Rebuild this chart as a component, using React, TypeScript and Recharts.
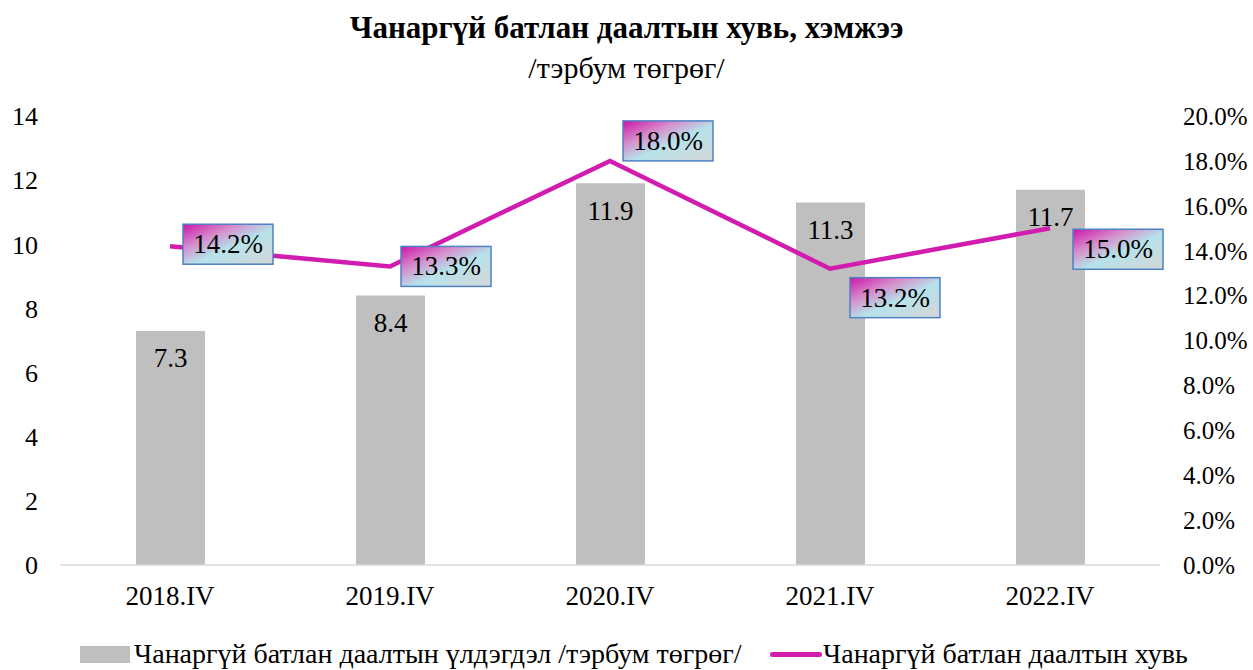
import { Bar, ComposedChart, LabelList, Line, XAxis, YAxis } from 'recharts'

const categories = ['2018.IV', '2019.IV', '2020.IV', '2021.IV', '2022.IV']
const balance = [7.3, 8.4, 11.9, 11.3, 11.7]
const share = [14.2, 13.3, 18.0, 13.2, 15.0]
const leftTicks = [0, 2, 4, 6, 8, 10, 12, 14]
const rightTicks = [0, 2, 4, 6, 8, 10, 12, 14, 16, 18, 20]

const data = categories.map((c, i) => ({ name: c, balance: balance[i], share: share[i] }))

// label box offsets from the point (centre of box), moved by hand in the source
const boxOffsets = [
  [58, -2],
  [56, 0],
  [58, -20],
  [65, 29],
  [68, 21],
]

const serif = '"Liberation Serif", "Times New Roman", serif'
const magenta = '#d21cb0'

function BoxLabel(props: any) {
  const { x, y, value, index } = props
  const [dx, dy] = boxOffsets[index] ?? [58, 0]
  const w = 90
  const h = 40
  const cx = x + dx
  const cy = y + dy
  const id = `boxgrad-${index}`
  return (
    <g>
      <defs>
        <linearGradient id={id} x1="0" y1="0" x2="1" y2="1">
          <stop offset="0%" stopColor="#cc14a8" />
          <stop offset="30%" stopColor="#d68ccc" />
          <stop offset="55%" stopColor="#b6e2ea" />
          <stop offset="100%" stopColor="#d6d6d6" />
        </linearGradient>
      </defs>
      <rect
        x={cx - w / 2}
        y={cy - h / 2}
        width={w}
        height={h}
        fill={`url(#${id})`}
        stroke="#4f81c4"
        strokeWidth={1.5}
      />
      <text
        x={cx}
        y={cy}
        textAnchor="middle"
        dominantBaseline="central"
        fontFamily={serif}
        fontSize={27}
        fill="#000"
      >
        {`${Number(value).toFixed(1)}%`}
      </text>
    </g>
  )
}

export default function App() {
  return (
    <div
      style={{
        position: 'absolute',
        left: 0,
        top: 0,
        width: 1253,
        height: 670,
        background: '#fff',
        fontFamily: serif,
      }}
    >
      <div
        style={{
          position: 'absolute',
          left: 0,
          top: 9,
          width: 1253,
          textAlign: 'center',
          fontSize: 31,
          fontWeight: 'bold',
          lineHeight: '38px',
        }}
      >
        Чанаргүй батлан даалтын хувь, хэмжээ
      </div>
      <div
        style={{
          position: 'absolute',
          left: 0,
          top: 49,
          width: 1253,
          textAlign: 'center',
          fontSize: 30,
          lineHeight: '38px',
        }}
      >
        /тэрбум төгрөг/
      </div>

      <ComposedChart
        width={1253}
        height={670}
        data={data}
        margin={{ top: 116, right: 0, left: 0, bottom: 60 }}
        style={{ position: 'absolute', left: 0, top: 0 }}
      >
        <XAxis
          dataKey="name"
          height={45}
          axisLine={{ stroke: '#d9d9d9', strokeWidth: 1.5 }}
          tickLine={false}
          tickMargin={15}
          tick={{ fontSize: 27, fill: '#000', fontFamily: serif }}
        />
        <YAxis
          yAxisId="left"
          width={60}
          domain={[0, 14]}
          ticks={leftTicks}
          axisLine={false}
          tickLine={false}
          tickMargin={16}
          tick={{ fontSize: 26, fill: '#000', fontFamily: serif }}
        />
        <YAxis
          yAxisId="right"
          orientation="right"
          width={93}
          domain={[0, 20]}
          ticks={rightTicks}
          axisLine={false}
          tickLine={false}
          tickMargin={17}
          tickFormatter={(v: number) => `${v.toFixed(1)}%`}
          tick={{ fontSize: 25, fill: '#000', fontFamily: serif }}
        />
        <Bar
          yAxisId="left"
          dataKey="balance"
          fill="#bfbfbf"
          barSize={69}
          isAnimationActive={false}
        >
          <LabelList
            dataKey="balance"
            position="insideTop"
            offset={17}
            fill="#000"
            fontSize={27}
            fontFamily={serif}
            formatter={(v: any) => Number(v).toFixed(1)}
          />
        </Bar>
        <Line
          yAxisId="right"
          dataKey="share"
          type="linear"
          stroke={magenta}
          strokeWidth={4.5}
          dot={false}
          activeDot={false}
          isAnimationActive={false}
        >
          <LabelList dataKey="share" content={BoxLabel} />
        </Line>
      </ComposedChart>

      <div
        style={{
          position: 'absolute',
          top: 638,
          left: 0,
          width: 1253,
          height: 32,
          fontSize: 28,
          lineHeight: '32px',
        }}
      >
        <div
          style={{
            position: 'absolute',
            left: 80,
            top: 8,
            width: 50,
            height: 17,
            background: '#bfbfbf',
          }}
        />
        <div style={{ position: 'absolute', left: 134, top: 0, whiteSpace: 'nowrap' }}>
          Чанаргүй батлан даалтын үлдэгдэл /тэрбум төгрөг/
        </div>
        <div
          style={{
            position: 'absolute',
            left: 770,
            top: 14,
            width: 52,
            height: 5,
            borderRadius: 3,
            background: magenta,
          }}
        />
        <div style={{ position: 'absolute', left: 823, top: 0, whiteSpace: 'nowrap' }}>
          Чанаргүй батлан даалтын хувь
        </div>
      </div>
    </div>
  )
}
